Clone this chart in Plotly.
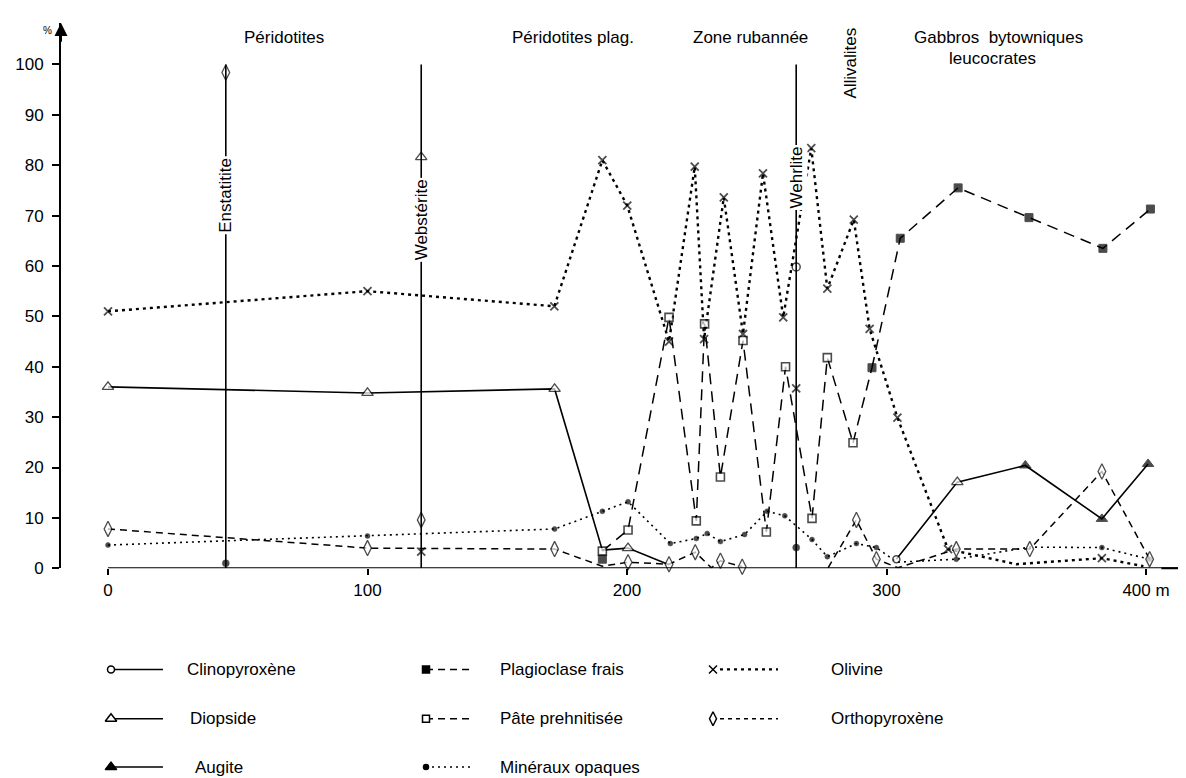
import plotly.graph_objects as go

# ---------------- data (profile position in m, modal %) ----------------
olivine_x = [0, 100, 172, 190.5, 200.1, 216.2, 226.1, 229.7, 237.3, 244.7, 252.4, 260.2,
             271.0, 277.2, 287.4, 293.5, 304.2, 323.7, 350, 383.0, 399]
olivine_y = [51, 55, 52, 81, 72, 45, 79.7, 45.5, 73.6, 46.5, 78.4, 49.8,
             83.4, 55.5, 69.2, 47.5, 29.9, 3.8, 0.8, 2.0, 0.4]
olivine_unmarked = [350, 399]

pate_x = [190.5, 200.4, 216.2, 226.7, 229.9, 236.0, 244.7, 253.7, 261.1, 271.3, 277.2, 287.1]
pate_y = [3.4, 7.6, 49.8, 9.4, 48.5, 18.1, 45.2, 7.2, 40.0, 9.9, 41.8, 24.9]

plag_x = [190.5, 294.4, 305.3, 327.6, 354.9, 383.4, 401.7]
plag_y = [1.8, 39.8, 65.5, 75.5, 69.6, 63.5, 71.3]

diopside_x = [0, 100, 172.1, 190.5, 200.4, 216.2, 327.3]
diopside_y = [36, 34.8, 35.6, 3.6, 4.0, 0.7, 17.1]
diopside_unmarked = [190.5, 216.2]

clino_x = [303.8]
clino_y = [1.8]

augite_x = [353.5, 383.0, 400.8]
augite_y = [20.4, 9.8, 20.7]

ortho_x = [0, 100, 172.1, 190.5, 200.4, 216.2, 226.3, 232.5, 236.0, 244.4,
           277.5, 288.4, 296.1, 304.4, 326.9, 355.2, 383.0, 401.4]
ortho_y = [7.8, 4.0, 3.8, 0.4, 1.2, 0.8, 3.2, 0.1, 1.5, 0.3,
           0.1, 9.6, 1.8, 0.1, 3.8, 3.8, 19.2, 1.8]
ortho_unmarked = [190.5, 232.5, 277.5, 304.4]
ortho_gap_after = 244.4

opaque_x = [0, 100, 172.1, 190.5, 200.4, 216.7, 226.7, 230.9, 236.0, 245.3, 254.0, 260.8,
            271.3, 277.2, 288.4, 296.1, 304.0, 326.9, 355.2, 383.0, 401.4]
opaque_y = [4.6, 6.4, 7.8, 11.3, 13.2, 4.9, 5.9, 6.9, 5.3, 6.7, 11.3, 10.4,
            5.7, 2.3, 4.9, 4.1, 1.2, 1.8, 4.2, 4.1, 1.8]
opaque_unmarked = [304.0, 355.2]

# single rock samples drawn as vertical bars
sample_names = ["Enstatitite", "Webstérite", "Wehrlite"]
sample_x = [45.4, 120.7, 265.2]
sample_ortho = [98.4, 9.6, None]
sample_diopside = [None, 81.6, None]
sample_olivine = [None, 3.3, 35.7]
sample_clino = [None, None, 59.8]
sample_opaque = [1.0, None, 4.1]

zone_titles = ["Péridotites", "Péridotites plag.", "Zone rubannée",
               "Gabbros  bytowniques", "leucocrates"]
zone_title_x = [68, 179, 247.5, 343, 341]
zone_title_y = [105.3, 105.3, 105.3, 105.3, 101.2]

x_ticks = [0, 100, 200, 300, 400]
x_tick_text = ["0", "100", "200", "300", "400 m"]
y_ticks = list(range(0, 101, 10))

# ---------------- geometry ----------------
W, H = 1186, 778
ML, MR, MT, MB = 53, 3, 15, 0
X0_PX, PX_PER_M = 100.0, 2.595
Y0_PX, PX_PER_PC = 567.5, 5.105
x_min = (ML - X0_PX) / PX_PER_M
x_max = (W - MR - X0_PX) / PX_PER_M
y_max = (Y0_PX - MT) / PX_PER_PC
paper_h = H - MT - MB
y_dom0 = (H - Y0_PX) / paper_h
leg_top_px = H - 0.27 * paper_h

BLACK = "#000000"
DASH_LONG = "11px,7px"
DASH_SHORT = "7px,5px"
DOT_OL = "3px,4px"
DOT_OP = "2px,4px"

fig = go.Figure()


def sizes(xs, hidden, s):
    return [0 if x in hidden else s for x in xs]


def line_trace(xs, ys, dash, width=1.5):
    fig.add_trace(go.Scatter(x=xs, y=ys, mode="lines", cliponaxis=False,
                             line=dict(color=BLACK, width=width, dash=dash),
                             hoverinfo="skip", showlegend=False))


def marker_style(symbol, size, lw):
    """open symbols are drawn white-filled with a black outline"""
    if symbol.startswith("x"):
        return dict(symbol="x-thin-open", size=size, color=BLACK,
                    line=dict(color=BLACK, width=lw))
    if symbol.endswith("-open"):
        return dict(symbol=symbol[:-5], size=size, color="white",
                    line=dict(color=BLACK, width=lw))
    return dict(symbol=symbol, size=size, color=BLACK, line=dict(color=BLACK, width=lw))


def marker_trace(xs, ys, symbol, size, lw=1.4, hidden=()):
    m = marker_style(symbol, size, lw)
    m["size"] = sizes(xs, hidden, size)
    fig.add_trace(go.Scatter(x=xs, y=ys, mode="markers", cliponaxis=False, marker=m,
                             hoverinfo="skip", showlegend=False))


# sample vertical bars
for sx in sample_x:
    fig.add_shape(type="line", x0=sx, x1=sx, y0=0, y1=100, xref="x", yref="y",
                  line=dict(color=BLACK, width=1.6))

# olivine
line_trace(olivine_x, olivine_y, DOT_OL, 2.4)

# pâte prehnitisée + plagioclase (dashed chain)
line_trace(pate_x, pate_y, DASH_LONG)
line_trace([pate_x[-1], plag_x[1]], [pate_y[-1], plag_y[1]], DASH_LONG)
line_trace(plag_x[1:], plag_y[1:], DASH_LONG)

# orthopyroxène
ox = []
oy = []
for x, y in zip(ortho_x, ortho_y):
    ox.append(x)
    oy.append(y)
    if x == ortho_gap_after:
        ox.append(None)
        oy.append(None)
line_trace(ox, oy, DASH_SHORT)

# minéraux opaques
line_trace(opaque_x, opaque_y, DOT_OP, 1.6)

# pyroxene solid lines
left = [(x, y) for x, y in zip(diopside_x, diopside_y) if x < 250]
right = sorted([(x, y) for x, y in zip(clino_x, clino_y)] +
               [(x, y) for x, y in zip(diopside_x, diopside_y) if x >= 250] +
               [(x, y) for x, y in zip(augite_x, augite_y)])
line_trace([p[0] for p in left], [p[1] for p in left], "solid", 1.6)
line_trace([p[0] for p in right], [p[1] for p in right], "solid", 1.6)

# markers
marker_trace(opaque_x, opaque_y, "circle", 5, 0.5, opaque_unmarked)
marker_trace(ortho_x, ortho_y, "diamond-tall-open", 11, 1.3, ortho_unmarked)
marker_trace(olivine_x, olivine_y, "x", 8, 1.8, olivine_unmarked)
marker_trace(pate_x, pate_y, "square-open", 8, 1.6)
marker_trace(plag_x, plag_y, "square", 8, 1)
marker_trace(diopside_x, diopside_y, "triangle-up-open", 10, 1.3, diopside_unmarked)
marker_trace(augite_x, augite_y, "triangle-up", 10, 1)
marker_trace(clino_x, clino_y, "circle-open", 7, 1.5)

# sample markers
def sample_pts(vals):
    xs = [x for x, v in zip(sample_x, vals) if v is not None]
    ys = [v for v in vals if v is not None]
    return xs, ys

marker_trace(*sample_pts(sample_ortho), "diamond-tall-open", 11, 1.3)
marker_trace(*sample_pts(sample_diopside), "triangle-up-open", 10, 1.3)
marker_trace(*sample_pts(sample_olivine), "x", 8, 1.8)
marker_trace(*sample_pts(sample_clino), "circle-open", 8, 1.5)
marker_trace(*sample_pts(sample_opaque), "circle", 7, 0.5)

# x-axis line
fig.add_shape(type="line", x0=0, x1=x_max - 3, y0=0, y1=0, xref="x", yref="y",
              line=dict(color=BLACK, width=2))

ann = []
FONT_T = "Liberation Sans, Arial, sans-serif"
FONT_L = "Liberation Sans Narrow, Arial Narrow, Liberation Sans, sans-serif"

# axis arrows
ann.append(dict(x=x_max, y=0, ax=x_max - 12, ay=0, xref="x", yref="y", axref="x", ayref="y",
                text="", showarrow=True, arrowhead=2, arrowsize=1.3, arrowwidth=2, arrowcolor=BLACK))
ann.append(dict(x=x_min, y=y_max, ax=x_min, ay=y_max - 4, xref="x", yref="y", axref="x", ayref="y",
                text="", showarrow=True, arrowhead=2, arrowsize=1.3, arrowwidth=2, arrowcolor=BLACK))
ann.append(dict(x=(33 - ML) / (W - ML - MR), y=1.0, xref="paper", yref="paper",
                text="%", showarrow=False, font=dict(family=FONT_T, size=10, color=BLACK)))

# zone titles
for t, x, y in zip(zone_titles, zone_title_x, zone_title_y):
    ann.append(dict(x=x, y=y, xref="x", yref="y", text=t, showarrow=False,
                    font=dict(family=FONT_T, size=17, color=BLACK)))

# sample labels
label_y = [74.1, 69.1, 77.6]
for name, x, y in zip(sample_names, sample_x, label_y):
    ann.append(dict(x=x, y=y, xref="x", yref="y", text=name, textangle=-90, showarrow=False,
                    bgcolor="white", borderpad=1,
                    font=dict(family=FONT_T, size=17, color=BLACK)))
ann.append(dict(x=286, y=100.2, xref="x", yref="y", text="Allivalites", textangle=-90,
                showarrow=False, font=dict(family=FONT_T, size=17, color=BLACK)))

# ---------------- manual legend (pixel axes) ----------------
legend_items = [
    # (label, col, row, symbol, dash)
    ("Clinopyroxène", 0, 0, "circle-open", "solid"),
    ("Diopside", 0, 1, "triangle-up-open", "solid"),
    ("Augite", 0, 2, "triangle-up", "solid"),
    ("Plagioclase frais", 1, 0, "square", DASH_SHORT),
    ("Pâte prehnitisée", 1, 1, "square-open", DASH_SHORT),
    ("Minéraux opaques", 1, 2, "circle", DOT_OP),
    ("Olivine", 2, 0, "x", DOT_OL),
    ("Orthopyroxène", 2, 1, "diamond-tall-open", "4px,4px"),
]
row_px = [670, 720, 769]
col_marker = [103, 418, 705]
col_line = [(103, 155), (418, 465), (712, 770)]
col_text = [177, 490, 821]
text_shift = {"Diopside": 3, "Augite": 8}
msize = {"circle-open": 7, "triangle-up-open": 10, "triangle-up": 10, "square": 7,
         "square-open": 7, "circle": 5, "x": 8, "diamond-tall-open": 10}
for label, c, r, sym, dash in legend_items:
    y = row_px[r]
    x0, x1 = col_line[c]
    fig.add_trace(go.Scatter(x=[x0, x1], y=[y, y], mode="lines", xaxis="x2", yaxis="y2",
                             line=dict(color=BLACK, width=1.5 if dash != DOT_OL else 2.2, dash=dash),
                             hoverinfo="skip", showlegend=False))
    fig.add_trace(go.Scatter(x=[col_marker[c]], y=[y], mode="markers", xaxis="x2", yaxis="y2",
                             marker=marker_style(sym, msize[sym], 1.5),
                             hoverinfo="skip", showlegend=False))
    ann.append(dict(x=col_text[c] + text_shift.get(label, 0), y=y, xref="x2", yref="y2",
                    text=label, showarrow=False, xanchor="left",
                    font=dict(family=FONT_L, size=17, color=BLACK)))

fig.update_layout(
    width=W, height=H,
    margin=dict(l=ML, r=MR, t=MT, b=MB, pad=0),
    paper_bgcolor="white", plot_bgcolor="white",
    showlegend=False,
    annotations=ann,
    xaxis=dict(range=[x_min, x_max], domain=[0, 1], anchor="y",
               tickmode="array", tickvals=x_ticks, ticktext=x_tick_text,
               ticks="outside", ticklen=6, tickwidth=1.5, tickcolor=BLACK,
               showline=False, showgrid=False, zeroline=False,
               tickfont=dict(family=FONT_T, size=17, color=BLACK)),
    yaxis=dict(range=[0, y_max], domain=[y_dom0, 1], anchor="x",
               tickmode="array", tickvals=y_ticks,
               ticks="outside", ticklen=7, tickwidth=1.5, tickcolor=BLACK,
               ticklabelstandoff=5,
               showline=True, linecolor=BLACK, linewidth=2,
               showgrid=False, zeroline=False,
               tickfont=dict(family=FONT_T, size=17, color=BLACK)),
    xaxis2=dict(range=[ML, W - MR], domain=[0, 1], anchor="y2", visible=False),
    yaxis2=dict(range=[H, leg_top_px], domain=[0, 0.27], anchor="x2", visible=False),
)

fig.write_html("out.html")
